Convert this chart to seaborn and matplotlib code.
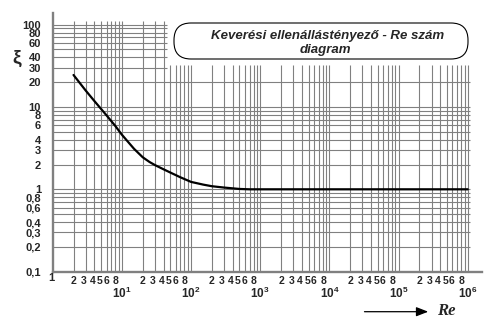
import matplotlib
matplotlib.use("Agg")
import matplotlib.pyplot as plt
import matplotlib.transforms as mtransforms
from matplotlib.patches import FancyBboxPatch, FancyArrowPatch
from matplotlib import font_manager
import seaborn as sns
import pandas as pd

# ---- data ----
re_values = [2, 3, 4, 6, 8, 10, 12, 15, 20, 25, 30, 40, 50, 70, 100, 150, 200, 300, 500, 700, 1000, 1e4, 1e5, 1e6]
xi_values = [24.4, 15.8, 11.8, 7.9, 5.9, 4.6, 3.85, 3.1, 2.45, 2.15, 1.97, 1.75, 1.6, 1.4, 1.23, 1.14, 1.09, 1.05, 1.01, 1.0, 1.0, 1.0, 1.0, 1.0]

y_tick_values = [100, 80, 60, 40, 30, 20, 10, 8, 6, 4, 3, 2, 1, 0.8, 0.6, 0.4, 0.3, 0.2, 0.1]
y_tick_labels = ["100", "80", "60", "40", "30", "20", "10", "8", "6", "4", "3", "2", "1",
                 "0,8", "0,6", "0,4", "0,3", "0,2", "0,1"]
x_decades = [10, 100, 1000, 1e4, 1e5, 1e6]
x_decade_labels = [r"$\mathbf{10^{1}}$", r"$\mathbf{10^{2}}$", r"$\mathbf{10^{3}}$",
                   r"$\mathbf{10^{4}}$", r"$\mathbf{10^{5}}$", r"$\mathbf{10^{6}}$"]
minor_label_digits = [2, 3, 4, 5, 6, 8]
title_line1 = "Keverési ellenállástényező - Re szám"
title_line2 = "diagram"

df = pd.DataFrame({"Re": re_values, "xi": xi_values})

sns.set_style("white")
plt.rcParams["font.family"] = ["Liberation Sans", "DejaVu Sans"]
plt.rcParams["mathtext.fontset"] = "custom"
plt.rcParams["mathtext.rm"] = "Liberation Sans"
plt.rcParams["mathtext.bf"] = "Liberation Sans:bold"
plt.rcParams["mathtext.it"] = "Liberation Sans:italic"

installed = {f.name for f in font_manager.fontManager.ttflist}
narrow = "Liberation Sans Narrow" if "Liberation Sans Narrow" in installed else "Liberation Sans"

GRAY = "#808080"
W, H = 492, 331
fig = plt.figure(figsize=(W / 100, H / 100), dpi=100)
fig.patch.set_facecolor("white")
ax = fig.add_axes([52.7 / W, (H - 271.7) / H, (481.7 - 52.7) / W, (271.7 - 13) / H])
ax.set_xscale("log")
ax.set_yscale("log")
ax.set_xlim(1, 1.59e6)
ax.set_ylim(0.1, 138)

# ---- custom (clipped) grid ----
ylines = [m * d for d in [0.1, 1, 10] for m in range(1, 10) if m * d > 0.1] + [100]
xlines = [m * d for d in [1, 10, 100, 1e3, 1e4, 1e5] for m in range(1, 10) if m * d > 1] + [1e6]
for yv in ylines:
    xmax = 1.08e6 if yv <= 25 else 45
    ax.hlines(yv, 1, xmax, color=GRAY, lw=0.8, zorder=1)
for xv in xlines:
    ytop = 111 if xv <= 45 else 32
    ax.vlines(xv, 0.1, ytop, color=GRAY, lw=0.8, zorder=1)

sns.lineplot(data=df, x="Re", y="xi", ax=ax, color="black", lw=1.6, zorder=3)
ax.set_xlabel("")
ax.set_ylabel("")

for s in ["top", "right"]:
    ax.spines[s].set_visible(False)
for s in ["left", "bottom"]:
    ax.spines[s].set_color(GRAY)
    ax.spines[s].set_linewidth(1.7)

# y ticks
ax.yaxis.set_minor_locator(matplotlib.ticker.NullLocator())
ax.set_yticks(y_tick_values)
ax.set_yticklabels(y_tick_labels, fontsize=8, fontweight="bold", family=narrow)
ax.tick_params(axis="y", length=0, pad=8.5)

# x ticks (decades)
ax.xaxis.set_minor_locator(matplotlib.ticker.NullLocator())
ax.set_xticks(x_decades)
ax.set_xticklabels(x_decade_labels, fontsize=8.5)
ax.tick_params(axis="x", length=8.5, width=1, color=GRAY, pad=1.5, direction="out")

# minor digit labels
blend = mtransforms.blended_transform_factory(ax.transData, ax.transAxes)
offsets = {2: 0, 3: -2, 4: -2, 5: -1.5, 6: -0.5, 8: 0.5}
for d in [1, 10, 100, 1e3, 1e4, 1e5]:
    for m in minor_label_digits:
        tr = mtransforms.offset_copy(blend, fig=fig, x=offsets[m], y=-9, units="dots")
        ax.text(m * d, 0, str(m), transform=tr, ha="center", va="center",
                fontsize=7.5, fontweight="bold", family=narrow, clip_on=False)
tr1 = mtransforms.offset_copy(blend, fig=fig, x=-1, y=-6, units="dots")
ax.text(1, 0, "1", transform=tr1, ha="center", va="center", fontsize=8,
        fontweight="bold", family=narrow, clip_on=False)

# y axis symbol
fig.text(17 / W, 1 - 58 / H, "ξ", fontsize=14, fontweight="bold", ha="center", va="center")

# title box
ident = mtransforms.IdentityTransform()
box = FancyBboxPatch((174, H - 59), 294, 36, boxstyle="round,pad=0,rounding_size=17",
                     transform=ident, facecolor="white", edgecolor="black", lw=0.8, zorder=5)
fig.add_artist(box)
fig.text(328 / W, 1 - 36 / H, title_line1, fontsize=9.5, fontweight="bold", style="italic",
         ha="center", va="center", zorder=6)
fig.text(325 / W, 1 - 50 / H, title_line2, fontsize=9.5, fontweight="bold", style="italic",
         ha="center", va="center", zorder=6)

# Re arrow
arr = FancyArrowPatch((361.7, H - 311.7), (431, H - 311.7), transform=ident,
                      arrowstyle="-|>,head_length=0.9,head_width=0.35", mutation_scale=8,
                      color="black", lw=0.9)
fig.add_artist(arr)
fig.text(437 / W, 1 - 311 / H, "Re", fontsize=12, fontweight="bold", style="italic",
         family="Liberation Serif", ha="left", va="center")

fig.savefig("out.png", dpi=100, facecolor="white")
